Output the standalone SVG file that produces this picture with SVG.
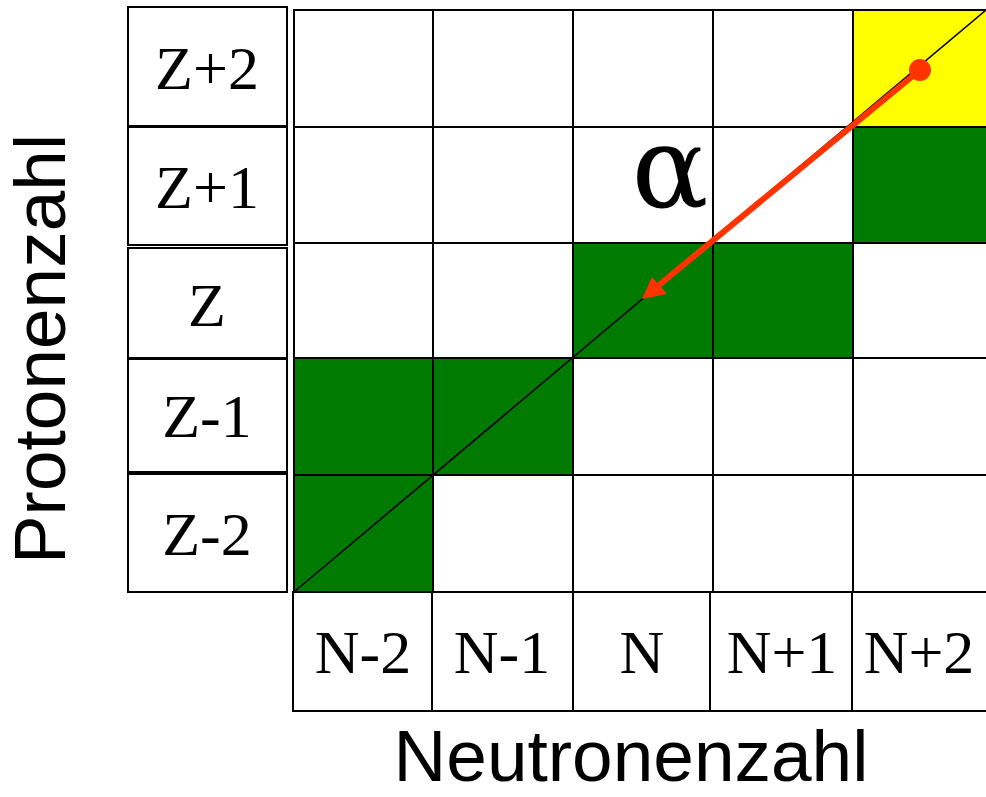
<svg xmlns="http://www.w3.org/2000/svg" width="986" height="797" viewBox="0 0 986 797">
<style>
.cell{fill:#ffffff;stroke:#000;stroke-width:2}
.g{fill:#007a00}
.y{fill:#ffff00}
.lbl{font-family:"Liberation Serif","Times New Roman",serif;font-size:62px;text-anchor:middle;fill:#000}
.ax{font-family:"Liberation Sans",Arial,sans-serif;text-anchor:middle;fill:#000}
</style>
<rect width="986" height="797" fill="#ffffff"/>
<g id="grid">
<rect class="cell" x="294" y="10" width="139" height="117"/>
<rect class="cell" x="433" y="10" width="140" height="117"/>
<rect class="cell" x="573" y="10" width="140" height="117"/>
<rect class="cell" x="713" y="10" width="140" height="117"/>
<rect class="cell y" x="853" y="10" width="140" height="117"/>
<rect class="cell" x="294" y="127" width="139" height="116"/>
<rect class="cell" x="433" y="127" width="140" height="116"/>
<rect class="cell" x="573" y="127" width="140" height="116"/>
<rect class="cell" x="713" y="127" width="140" height="116"/>
<rect class="cell g" x="853" y="127" width="140" height="116"/>
<rect class="cell" x="294" y="243" width="139" height="115"/>
<rect class="cell" x="433" y="243" width="140" height="115"/>
<rect class="cell g" x="573" y="243" width="140" height="115"/>
<rect class="cell g" x="713" y="243" width="140" height="115"/>
<rect class="cell" x="853" y="243" width="140" height="115"/>
<rect class="cell g" x="294" y="358" width="139" height="117"/>
<rect class="cell g" x="433" y="358" width="140" height="117"/>
<rect class="cell" x="573" y="358" width="140" height="117"/>
<rect class="cell" x="713" y="358" width="140" height="117"/>
<rect class="cell" x="853" y="358" width="140" height="117"/>
<rect class="cell g" x="294" y="475" width="139" height="117"/>
<rect class="cell" x="433" y="475" width="140" height="117"/>
<rect class="cell" x="573" y="475" width="140" height="117"/>
<rect class="cell" x="713" y="475" width="140" height="117"/>
<rect class="cell" x="853" y="475" width="140" height="117"/>
</g>
<g id="z-labels">
<g id="z-plus-2"><rect class="cell" x="128" y="7" width="159" height="119"/><text class="lbl" x="207" y="89">Z+2</text></g>
<g id="z-plus-1"><rect class="cell" x="128" y="127" width="159" height="118"/><text class="lbl" x="207" y="208">Z+1</text></g>
<g id="z"><rect class="cell" x="128" y="248" width="159" height="110"/><text class="lbl" x="207" y="326">Z</text></g>
<g id="z-minus-1"><rect class="cell" x="128" y="359" width="159" height="113"/><text class="lbl" x="207" y="437">Z-1</text></g>
<g id="z-minus-2"><rect class="cell" x="128" y="474" width="159" height="118"/><text class="lbl" x="207" y="555">Z-2</text></g>
</g>
<g id="n-labels">
<g id="n-minus-2"><rect class="cell" x="293" y="592" width="139" height="119"/><text class="lbl" x="363" y="673">N-2</text></g>
<g id="n-minus-1"><rect class="cell" x="432" y="592" width="141" height="119"/><text class="lbl" x="502" y="673">N-1</text></g>
<g id="n"><rect class="cell" x="573" y="592" width="137" height="119"/><text class="lbl" x="642" y="673">N</text></g>
<g id="n-plus-1"><rect class="cell" x="710" y="592" width="142" height="119"/><text class="lbl" x="782" y="673">N+1</text></g>
<g id="n-plus-2"><rect class="cell" x="852" y="592" width="140" height="119"/><text class="lbl" x="919" y="673">N+2</text></g>
</g>
<g id="connectors">
<line x1="294" y1="592" x2="986" y2="10" stroke="#000" stroke-width="1.6"/>
<line x1="920" y1="70" x2="659" y2="285" stroke="#ff3300" stroke-width="6"/>
<polygon points="642,299 652,277 667,294" fill="#ff3300"/>
<circle cx="920" cy="70" r="11" fill="#ff3300"/>
</g>
<text id="alpha" x="670" y="207" font-family="'DejaVu Serif',serif" font-size="114" text-anchor="middle">α</text>
<text id="protonenzahl" class="ax" font-size="73" transform="translate(65,349) rotate(-90)">Protonenzahl</text>
<text id="neutronenzahl" class="ax" font-size="73" x="631" y="781">Neutronenzahl</text>
</svg>
